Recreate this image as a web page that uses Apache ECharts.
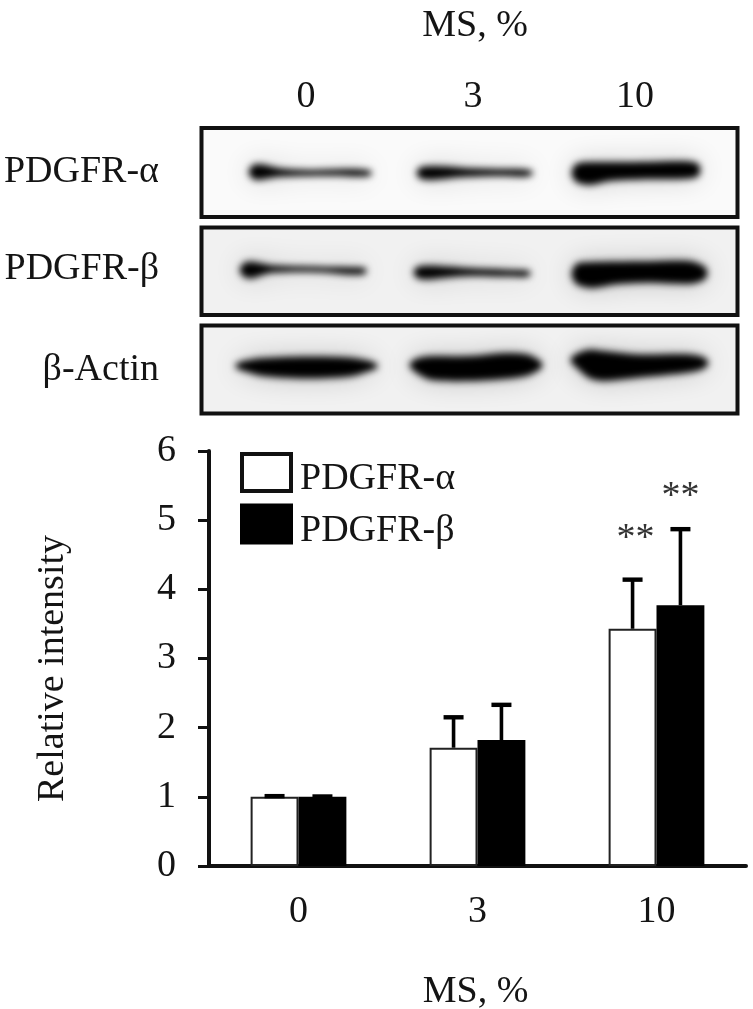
<!DOCTYPE html>
<html>
<head>
<meta charset="utf-8">
<style>
html,body{margin:0;padding:0;background:#fff}
#c{width:753px;height:1009px;filter:blur(0.45px)}
</style>
<script src="https://cdn.jsdelivr.net/npm/echarts@6/dist/echarts.min.js"></script>
</head>
<body>
<div id="c"></div>
<script>
const doses = ['0', '3', '10'];
const pdgfrAlpha = [1, 1.71, 3.43];
const pdgfrBeta = [1, 1.82, 3.77];
const pdgfrAlphaTop = [1.01, 2.15, 4.14];
const pdgfrBetaTop = [1.005, 2.33, 4.87];
const alphaMarks = ['', '', '**'];
const betaMarks = ['', '', '**'];
const blotRows = ['PDGFR-α', 'PDGFR-β', 'β-Actin'];

// Densitometric outline of each blot band: [lane position, centre, half thickness]
const alphaBand0 = [[249,172,2],[253,172,7],[259,172,8],[268,172,6.5],[280,172.5,4.2],[310,173,3],[345,172.5,3.4],[362,173,3.6],[371,173,2]];
const alphaBand3 = [[417,173,2],[421,173,6],[432,173,7],[448,172.5,6],[465,172.5,4.6],[500,172.5,3.6],[522,173,3.8],[532,173,2]];
const alphaBand10 = [[572,173,3],[577,173,9.5],[590,173.5,11.5],[610,171.5,9.5],[650,170.5,8.8],[685,170,9],[697,170,7],[700,170,3]];
const betaBand0 = [[240,270,2],[244,270,7],[251,270,8.5],[260,269.5,6.5],[272,269,3.8],[320,269.5,2.8],[350,271,3.8],[362,271,3.4],[366,271,2]];
const betaBand3 = [[414,272.5,2],[418,272.5,6],[428,272.5,7],[448,272,5.5],[470,272,4],[505,273,3.6],[524,273.5,3.4],[530,273.5,2]];
const betaBand10 = [[572,274,3],[577,274,10.5],[592,275,13],[615,273,11.5],[650,272,10.8],[690,272.5,11.5],[703,273,7.5],[707,273,3]];
const actinBand0 = [[236,366,2],[245,366,5.5],[262,367,9],[305,367.5,11],[350,367,9.5],[368,366,5.5],[377,366,2]];
const actinBand3 = [[410,365,2],[418,366,8],[432,368,12],[470,368.5,12.5],[505,366,13],[528,365,10.5],[539,365,5],[542,365,2]];
const actinBand10 = [[571,360,2],[578,361,8],[590,364,14.5],[604,366,15],[640,366,11.5],[685,363.5,9.5],[702,363,6.5],[708,363,2]];
const alphaBands = [alphaBand0, alphaBand3, alphaBand10];
const betaBands = [betaBand0, betaBand3, betaBand10];
const actinBands = [actinBand0, actinBand3, actinBand10];

const serif = '"Liberation Serif","Times New Roman",serif';
const ink = '#141414';
const FS = 38;
const gapPct = 46.5;

function errorItem(side, marks, rise) {
  return function (params, api) {
    const idx = api.value(0), top = api.value(2);
    const band = api.size([1, 0])[0];
    const off = side * band * (1 - gapPct / 100) / 4;
    const c = api.coord([idx, api.value(1)]);
    const t = api.coord([idx, top]);
    const x = c[0] + off;
    const kids = [
      {type: 'line', shape: {x1: x, y1: c[1], x2: x, y2: t[1]}, style: {stroke: '#000', lineWidth: 3.6}},
      {type: 'line', shape: {x1: x - 10, y1: t[1], x2: x + 10, y2: t[1]}, style: {stroke: '#000', lineWidth: 4.4}}
    ];
    if (marks[idx]) {
      kids.push({type: 'text', style: {
        text: marks[idx], x: x + 3 * (side < 0 ? 1 : 0), y: t[1] - rise,
        font: '38px ' + serif, fill: '#333', textAlign: 'center'
      }});
    }
    return {type: 'group', children: kids};
  };
}

function bandItem(bands) {
  return function (params, api) {
    const profile = bands[params.dataIndex];
    const far = 3000;
    const upper = profile.map(p => api.coord([p[0], p[1] - p[2]]));
    const lower = profile.map(p => api.coord([p[0], p[1] + p[2]])).reverse();
    const pts = upper.concat(lower).map(p => [p[0] - far, p[1]]);
    const blob = (blur, color) => ({
      type: 'polygon', shape: {points: pts, smooth: 0.3},
      style: {fill: '#000', shadowColor: color, shadowBlur: blur, shadowOffsetX: far, shadowOffsetY: 0}
    });
    return {type: 'group', children: [blob(28, 'rgba(0,0,0,0.2)'), blob(7, 'rgba(0,0,0,1)')]};
  };
}

const gelFrames = [
  {top: 128, bottom: 217, fill: '#fafafa', bands: alphaBands},
  {top: 227.5, bottom: 315, fill: '#f1f1f1', bands: betaBands},
  {top: 325.5, bottom: 413.5, fill: '#f1f1f1', bands: actinBands}
];

const grids = [{left: 209, right: 7, top: 451, height: 415, outerBoundsMode: 'none'}];
const xAxes = [{
  type: 'category', data: doses, gridIndex: 0,
  axisLine: {lineStyle: {color: '#111', width: 4}},
  axisTick: {show: false},
  axisLabel: {fontFamily: serif, fontSize: FS, color: ink, margin: 27},
  name: 'MS, %', nameLocation: 'middle', nameGap: 107,
  nameTextStyle: {fontFamily: serif, fontSize: FS, color: ink, padding: [0, 4, 0, 0]}
}];
const yAxes = [{
  type: 'value', min: 0, max: 6, interval: 1, gridIndex: 0,
  axisLine: {show: true, onZero: false, lineStyle: {color: '#111', width: 4}},
  axisTick: {show: true, length: 11, lineStyle: {color: '#111', width: 3}},
  axisLabel: {fontFamily: serif, fontSize: FS, color: ink, margin: 33},
  splitLine: {show: false},
  name: 'Relative intensity', nameLocation: 'middle', nameGap: 137, nameRotate: 90,
  nameTextStyle: {fontFamily: serif, fontSize: FS, color: ink, padding: [0, 20, 0, 0]}
}];
const series = [
  {name: 'PDGFR-α', type: 'bar', data: pdgfrAlpha, barGap: 0, barCategoryGap: gapPct + '%',
   itemStyle: {color: '#fff', borderColor: '#222', borderWidth: 2}},
  {name: 'PDGFR-β', type: 'bar', data: pdgfrBeta,
   itemStyle: {color: '#000', borderColor: '#000', borderWidth: 2}},
  {type: 'custom', renderItem: errorItem(-1, alphaMarks, 60), silent: true, z: 5,
   encode: {x: 0, y: 2}, data: doses.map((d, i) => [i, pdgfrAlpha[i], pdgfrAlphaTop[i]])},
  {type: 'custom', renderItem: errorItem(1, betaMarks, 51), silent: true, z: 5,
   encode: {x: 0, y: 2}, data: doses.map((d, i) => [i, pdgfrBeta[i], pdgfrBetaTop[i]])}
];

gelFrames.forEach((g, i) => {
  const k = i + 1;
  grids.push({left: 201.5, width: 536, top: g.top, height: g.bottom - g.top, show: true,
    borderColor: '#111', borderWidth: 4, backgroundColor: g.fill, outerBoundsMode: 'none'});
  xAxes.push({type: 'value', gridIndex: k, min: 201.5, max: 737.5, show: false});
  yAxes.push({type: 'value', gridIndex: k, min: g.top, max: g.bottom, inverse: true, show: false});
  series.push({type: 'custom', xAxisIndex: k, yAxisIndex: k, silent: true, clip: false,
    renderItem: bandItem(g.bands), data: g.bands.map((b, j) => [b[0][0], b[0][1], j]),
    encode: {x: 0, y: 1}});
});

const textStyle = (text, x, y, align) => ({
  type: 'text', x: x, y: y,
  style: {text: text, font: FS + 'px ' + serif, fill: ink, textAlign: align}
});
const laneX = [306, 473, 635];
const rowTop = [153, 250, 351];

const chart = echarts.init(document.getElementById('c'), null, {renderer: 'canvas'});
chart.setOption({
  animation: false,
  backgroundColor: '#fff',
  grid: grids, xAxis: xAxes, yAxis: yAxes, series: series,
  legend: {
    data: [
      {name: 'PDGFR-α', itemStyle: {color: '#fff', borderColor: '#111', borderWidth: 4}},
      {name: 'PDGFR-β', itemStyle: {color: '#000', borderColor: '#000', borderWidth: 4}}
    ],
    orient: 'vertical', left: 240, top: 452, itemWidth: 49, itemHeight: 37, itemGap: 5, padding: 0,
    selectedMode: false, icon: 'rect',
    formatter: '{a|{name}}',
    textStyle: {rich: {a: {fontFamily: serif, fontSize: FS, color: ink, padding: [14, 0, 0, 4]}}}
  },
  graphic: [
    textStyle('MS, %', 475, 7, 'center'),
    ...doses.map((d, i) => textStyle(d, laneX[i], 78, 'center')),
    ...blotRows.map((r, i) => textStyle(r, 159, rowTop[i], 'right'))
  ]
});
</script>
</body>
</html>
